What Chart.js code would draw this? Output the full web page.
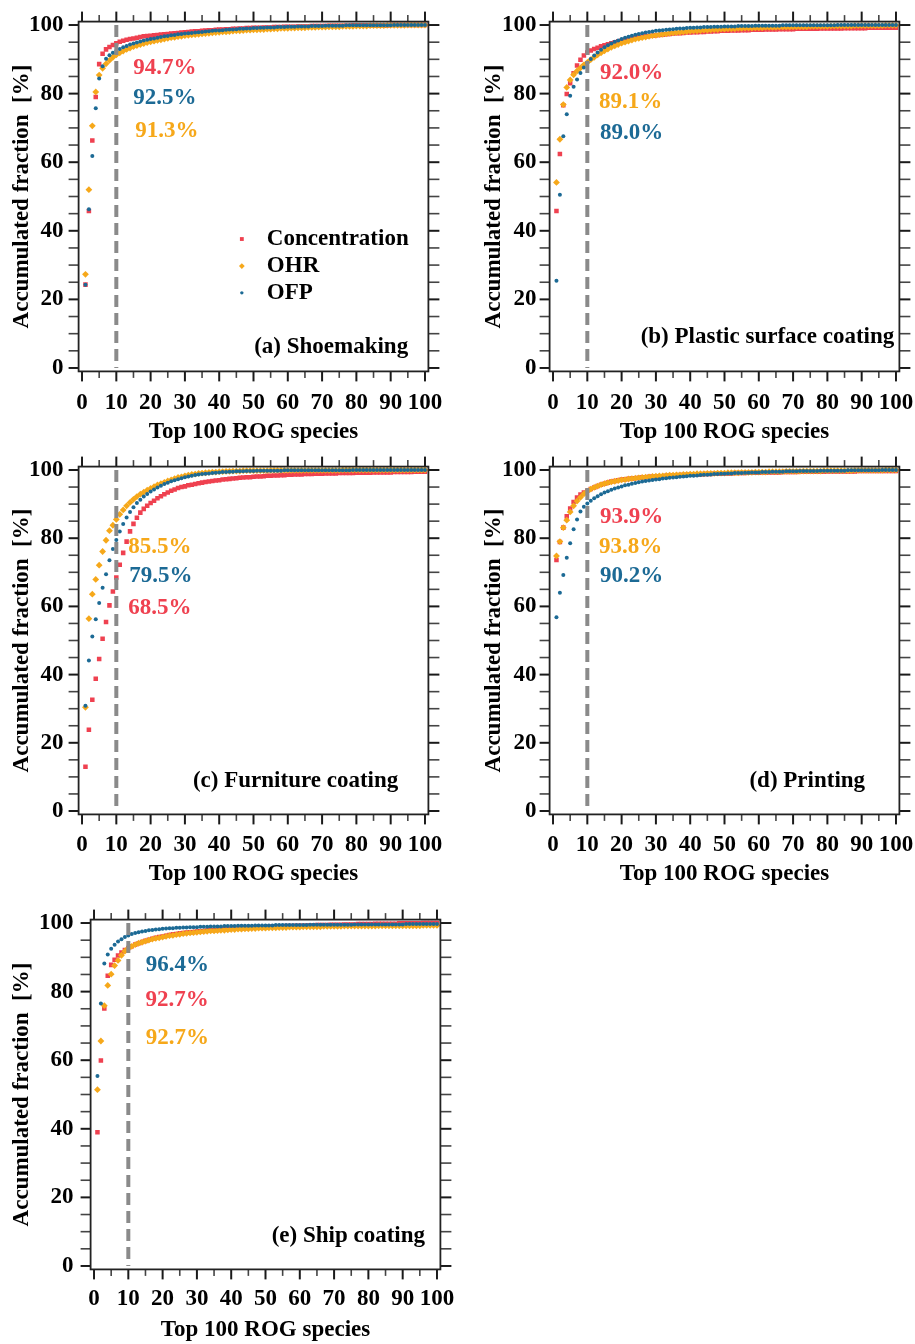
<!DOCTYPE html>
<html><head><meta charset="utf-8">
<script src="https://cdn.jsdelivr.net/npm/chart.js@4.4.1/dist/chart.umd.min.js"></script>
<style>
html,body{margin:0;padding:0;background:#fff;}
body{width:915px;height:1344px;position:relative;overflow:hidden;}
canvas{position:absolute;}
</style></head><body>
<canvas id="pa" width="455" height="446" style="left:0px;top:0px"></canvas>
<canvas id="pb" width="460" height="446" style="left:455px;top:0px"></canvas>
<canvas id="pc" width="455" height="444" style="left:0px;top:446px"></canvas>
<canvas id="pd" width="460" height="444" style="left:455px;top:446px"></canvas>
<canvas id="pe" width="470" height="454" style="left:0px;top:890px"></canvas>
<script>
// ---------- data ----------
const SERIES_NAMES = ['Concentration', 'OHR', 'OFP'];
const X_TITLE = 'Top 100 ROG species';
const Y_TITLE = 'Accumulated fraction  [%]';
const X_TICKS = [0, 10, 20, 30, 40, 50, 60, 70, 80, 90, 100];
const Y_TICKS = [0, 20, 40, 60, 80, 100];
const CUTOFF = 10;
const RANKS = Array.from({length: 100}, (_, i) => i + 1);
const PANEL_TITLES = ['(a) Shoemaking', '(b) Plastic surface coating', '(c) Furniture coating', '(d) Printing', '(e) Ship coating'];

// (a) Shoemaking
const A_CONC = [24.3,45.8,66.3,79.0,88.6,91.6,92.9,93.6,94.2,94.7, 95.1,95.4,95.7,95.9,96.1,96.3,96.5,96.7,96.8,96.9,
  97.0,97.1,97.2,97.3,97.4,97.5,97.6,97.7,97.8,97.9, 98.0,98.1,98.2,98.2,98.3,98.4,98.5,98.5,98.6,98.7,
  98.7,98.8,98.8,98.9,98.9,99.0,99.0,99.1,99.1,99.2, 99.2,99.2,99.3,99.3,99.3,99.4,99.4,99.4,99.5,99.5,
  99.5,99.5,99.6,99.6,99.6,99.6,99.7,99.7,99.7,99.7, 99.7,99.8,99.8,99.8,99.8,99.8,99.8,99.8,99.9,99.9,
  99.9,99.9,99.9,99.9,99.9,99.9,99.9,99.9,99.9,100.0, 100.0,100.0,100.0,100.0,100.0,100.0,100.0,100.0,100.0,100.0];
const A_OHR = [27.3,52.0,70.6,80.5,85.4,87.4,88.7,89.7,90.6,91.3, 91.9,92.4,92.9,93.3,93.7,94.0,94.3,94.6,94.9,95.1,
  95.3,95.5,95.7,95.9,96.1,96.3,96.4,96.6,96.7,96.9, 97.0,97.1,97.2,97.3,97.4,97.5,97.6,97.7,97.8,97.9,
  98.0,98.0,98.1,98.2,98.3,98.3,98.4,98.5,98.5,98.6, 98.6,98.7,98.7,98.8,98.8,98.9,98.9,99.0,99.0,99.0,
  99.1,99.1,99.2,99.2,99.2,99.3,99.3,99.3,99.4,99.4, 99.4,99.5,99.5,99.5,99.5,99.6,99.6,99.6,99.6,99.7,
  99.7,99.7,99.7,99.8,99.8,99.8,99.8,99.8,99.9,99.9, 99.9,99.9,99.9,99.9,100.0,100.0,100.0,100.0,100.0,100.0];
const A_OFP = [24.3,46.3,61.8,75.7,84.4,88.0,90.2,91.2,91.9,92.5, 93.0,93.5,93.9,94.3,94.6,94.9,95.2,95.5,95.7,95.9,
  96.1,96.3,96.5,96.7,96.8,97.0,97.1,97.3,97.4,97.5, 97.6,97.7,97.8,97.9,98.0,98.1,98.2,98.3,98.4,98.4,
  98.5,98.6,98.7,98.7,98.8,98.9,98.9,99.0,99.0,99.1, 99.1,99.2,99.2,99.3,99.3,99.3,99.4,99.4,99.4,99.5,
  99.5,99.5,99.6,99.6,99.6,99.6,99.7,99.7,99.7,99.7, 99.8,99.8,99.8,99.8,99.8,99.8,99.9,99.9,99.9,99.9,
  99.9,99.9,99.9,99.9,99.9,99.9,99.9,99.9,99.9,99.9, 100.0,100.0,100.0,100.0,100.0,100.0,100.0,100.0,100.0,100.0];

// (b) Plastic surface coating
const B_CONC = [45.8,62.4,76.6,79.9,83.0,85.9,88.2,89.9,91.1,92.0, 92.6,93.0,93.4,93.8,94.1,94.4,94.7,95.0,95.3,95.5,
  95.7,95.9,96.1,96.3,96.4,96.6,96.7,96.8,96.9,97.0, 97.1,97.2,97.3,97.4,97.5,97.6,97.6,97.7,97.8,97.8,
  97.9,97.9,98.0,98.0,98.1,98.1,98.2,98.2,98.3,98.3, 98.3,98.4,98.4,98.4,98.5,98.5,98.5,98.6,98.6,98.6,
  98.6,98.7,98.7,98.7,98.7,98.8,98.8,98.8,98.8,98.8, 98.9,98.9,98.9,98.9,98.9,98.9,98.9,99.0,99.0,99.0,
  99.0,99.0,99.0,99.0,99.1,99.1,99.1,99.1,99.1,99.1, 99.1,99.2,99.2,99.2,99.2,99.2,99.2,99.2,99.2,99.2];
const B_OHR = [54.1,66.7,76.8,81.8,84.0,85.5,86.6,87.5,88.4,89.1, 89.9,90.6,91.3,91.9,92.5,93.0,93.5,93.9,94.3,94.7,
  95.0,95.3,95.6,95.9,96.1,96.3,96.5,96.7,96.9,97.0, 97.2,97.3,97.4,97.6,97.7,97.8,97.9,98.0,98.1,98.2,
  98.3,98.3,98.4,98.5,98.5,98.6,98.7,98.7,98.8,98.8, 98.9,98.9,98.9,99.0,99.0,99.1,99.1,99.1,99.2,99.2,
  99.2,99.3,99.3,99.3,99.3,99.4,99.4,99.4,99.4,99.5, 99.5,99.5,99.5,99.5,99.6,99.6,99.6,99.6,99.6,99.6,
  99.7,99.7,99.7,99.7,99.7,99.7,99.7,99.8,99.8,99.8, 99.8,99.8,99.8,99.8,99.8,99.8,99.9,99.9,99.9,99.9];
const B_OFP = [25.4,50.5,67.6,74.0,79.4,82.0,84.1,86.0,87.6,89.0, 90.1,91.1,92.0,92.8,93.5,94.1,94.6,95.1,95.5,95.9,
  96.3,96.6,96.9,97.2,97.4,97.6,97.8,98.0,98.1,98.3, 98.4,98.5,98.6,98.7,98.8,98.9,99.0,99.0,99.1,99.2,
  99.2,99.3,99.3,99.4,99.4,99.4,99.5,99.5,99.5,99.6, 99.6,99.6,99.6,99.7,99.7,99.7,99.7,99.7,99.8,99.8,
  99.8,99.8,99.8,99.8,99.8,99.8,99.9,99.9,99.9,99.9, 99.9,99.9,99.9,99.9,99.9,99.9,99.9,99.9,99.9,99.9,
  99.9,99.9,100.0,100.0,100.0,100.0,100.0,100.0,100.0,100.0, 100.0,100.0,100.0,100.0,100.0,100.0,100.0,100.0,100.0,100.0];

// (c) Furniture coating
const C_CONC = [13.0,23.8,32.6,38.8,44.6,50.5,55.4,60.3,64.4,68.5, 72.2,75.7,79.0,82.0,84.2,86.0,87.5,88.6,89.5,90.3,
  91.0,91.7,92.3,92.9,93.4,93.9,94.3,94.7,95.0,95.2, 95.5,95.7,95.9,96.1,96.3,96.5,96.6,96.8,96.9,97.0,
  97.2,97.3,97.4,97.5,97.6,97.7,97.8,97.9,97.9,98.0, 98.1,98.1,98.2,98.3,98.3,98.4,98.4,98.5,98.5,98.6,
  98.6,98.7,98.7,98.7,98.8,98.8,98.8,98.9,98.9,98.9, 99.0,99.0,99.0,99.0,99.1,99.1,99.1,99.1,99.1,99.2,
  99.2,99.2,99.2,99.2,99.3,99.3,99.3,99.3,99.3,99.3, 99.4,99.4,99.4,99.4,99.4,99.4,99.5,99.5,99.5,99.5];
const C_OHR = [30.4,56.4,63.6,67.9,72.1,76.1,79.4,82.2,83.8,85.5, 87.0,88.3,89.5,90.5,91.4,92.2,92.9,93.5,94.1,94.6,
  95.1,95.6,96.0,96.4,96.8,97.1,97.5,97.8,98.0,98.3, 98.5,98.7,98.8,99.0,99.1,99.2,99.3,99.4,99.4,99.5,
  99.5,99.6,99.6,99.7,99.7,99.7,99.8,99.8,99.8,99.8, 99.8,99.8,99.8,99.8,99.9,99.9,99.9,99.9,99.9,99.9,
  99.9,99.9,99.9,99.9,99.9,99.9,99.9,99.9,99.9,99.9, 99.9,99.9,99.9,99.9,99.9,100.0,100.0,100.0,100.0,100.0,
  100.0,100.0,100.0,100.0,100.0,100.0,100.0,100.0,100.0,100.0, 100.0,100.0,100.0,100.0,100.0,100.0,100.0,100.0,100.0,100.0];
const C_OFP = [30.9,44.1,51.2,56.2,61.0,65.5,69.4,73.5,76.8,79.5, 82.0,84.2,86.1,87.7,89.1,90.3,91.3,92.2,93.0,93.7,
  94.3,94.9,95.4,95.9,96.3,96.7,97.0,97.3,97.6,97.9, 98.1,98.3,98.5,98.7,98.8,98.9,99.0,99.1,99.2,99.3,
  99.4,99.4,99.5,99.5,99.6,99.6,99.6,99.7,99.7,99.7, 99.8,99.8,99.8,99.8,99.8,99.8,99.8,99.8,99.9,99.9,
  99.9,99.9,99.9,99.9,99.9,99.9,99.9,99.9,99.9,99.9, 99.9,99.9,99.9,99.9,99.9,99.9,99.9,99.9,100.0,100.0,
  100.0,100.0,100.0,100.0,100.0,100.0,100.0,100.0,100.0,100.0, 100.0,100.0,100.0,100.0,100.0,100.0,100.0,100.0,100.0,100.0];

// (d) Printing
const D_CONC = [73.6,78.9,83.1,86.4,88.7,90.6,91.9,92.8,93.4,93.9, 94.4,94.9,95.3,95.7,96.0,96.3,96.6,96.8,97.0,97.2,
  97.3,97.4,97.5,97.6,97.7,97.8,97.9,98.0,98.0,98.1, 98.2,98.2,98.3,98.3,98.4,98.4,98.5,98.5,98.6,98.6,
  98.7,98.7,98.7,98.8,98.8,98.8,98.9,98.9,98.9,99.0, 99.0,99.0,99.1,99.1,99.1,99.1,99.2,99.2,99.2,99.2,
  99.3,99.3,99.3,99.3,99.3,99.3,99.4,99.4,99.4,99.4, 99.4,99.5,99.5,99.5,99.5,99.5,99.5,99.5,99.5,99.6,
  99.6,99.6,99.6,99.6,99.6,99.6,99.6,99.6,99.7,99.7, 99.7,99.7,99.7,99.7,99.7,99.7,99.7,99.7,99.7,99.7];
const D_OHR = [74.8,79.0,83.1,85.3,87.7,89.5,90.9,92.0,93.0,93.8, 94.4,94.9,95.3,95.7,96.0,96.3,96.5,96.7,96.9,97.1,
  97.2,97.4,97.5,97.6,97.7,97.8,97.9,98.0,98.1,98.2, 98.3,98.3,98.4,98.5,98.5,98.6,98.6,98.7,98.7,98.8,
  98.8,98.9,98.9,98.9,99.0,99.0,99.0,99.1,99.1,99.1, 99.2,99.2,99.2,99.2,99.3,99.3,99.3,99.3,99.4,99.4,
  99.4,99.4,99.5,99.5,99.5,99.5,99.5,99.6,99.6,99.6, 99.6,99.6,99.7,99.7,99.7,99.7,99.7,99.7,99.8,99.8,
  99.8,99.8,99.8,99.8,99.8,99.8,99.8,99.9,99.9,99.9, 99.9,99.9,99.9,99.9,99.9,99.9,100.0,100.0,100.0,100.0];
const D_OFP = [56.8,64.0,69.2,74.3,78.5,82.6,85.5,87.8,89.2,90.2, 91.0,91.7,92.3,92.9,93.4,93.8,94.2,94.6,94.9,95.2,
  95.5,95.7,96.0,96.2,96.4,96.6,96.8,96.9,97.1,97.2, 97.3,97.5,97.6,97.7,97.8,97.9,98.0,98.1,98.2,98.3,
  98.3,98.4,98.5,98.6,98.6,98.7,98.8,98.8,98.9,98.9, 99.0,99.0,99.1,99.1,99.1,99.2,99.2,99.3,99.3,99.3,
  99.4,99.4,99.4,99.5,99.5,99.5,99.5,99.6,99.6,99.6, 99.6,99.7,99.7,99.7,99.7,99.7,99.7,99.8,99.8,99.8,
  99.8,99.8,99.8,99.8,99.8,99.9,99.9,99.9,99.9,99.9, 99.9,99.9,99.9,99.9,99.9,100.0,100.0,100.0,100.0,100.0];

// (e) Ship coating
const E_CONC = [39.0,59.9,75.1,84.6,87.8,89.3,90.5,91.4,92.1,92.7, 93.2,93.7,94.1,94.5,94.8,95.1,95.4,95.7,95.9,96.1,
  96.3,96.5,96.7,96.8,97.0,97.1,97.2,97.3,97.4,97.5, 97.6,97.7,97.8,97.9,98.0,98.0,98.1,98.2,98.2,98.3,
  98.4,98.4,98.5,98.5,98.6,98.6,98.7,98.7,98.8,98.8, 98.9,98.9,98.9,99.0,99.0,99.1,99.1,99.1,99.2,99.2,
  99.2,99.3,99.3,99.3,99.4,99.4,99.4,99.4,99.5,99.5, 99.5,99.5,99.6,99.6,99.6,99.6,99.7,99.7,99.7,99.7,
  99.7,99.8,99.8,99.8,99.8,99.8,99.8,99.8,99.9,99.9, 99.9,99.9,99.9,99.9,99.9,100.0,100.0,100.0,100.0,100.0];
const E_OHR = [51.4,65.6,75.9,81.8,85.1,87.6,89.1,90.6,91.8,92.7, 93.2,93.7,94.1,94.4,94.7,95.0,95.3,95.5,95.7,95.9,
  96.1,96.3,96.4,96.6,96.7,96.9,97.0,97.1,97.2,97.3, 97.4,97.5,97.6,97.7,97.7,97.8,97.9,97.9,98.0,98.1,
  98.1,98.2,98.2,98.3,98.3,98.4,98.4,98.5,98.5,98.5, 98.6,98.6,98.6,98.7,98.7,98.7,98.8,98.8,98.8,98.8,
  98.9,98.9,98.9,98.9,98.9,98.9,99.0,99.0,99.0,99.0, 99.0,99.0,99.1,99.1,99.1,99.1,99.1,99.1,99.1,99.1,
  99.1,99.1,99.2,99.2,99.2,99.2,99.2,99.2,99.2,99.2, 99.2,99.2,99.2,99.2,99.2,99.3,99.3,99.3,99.3,99.3];
const E_OFP = [55.4,76.5,88.2,90.8,92.5,93.7,94.6,95.3,95.9,96.4, 96.8,97.1,97.3,97.5,97.7,97.9,98.0,98.1,98.2,98.3,
  98.4,98.5,98.5,98.6,98.6,98.7,98.7,98.8,98.8,98.8, 98.9,98.9,98.9,99.0,99.0,99.0,99.0,99.1,99.1,99.1,
  99.1,99.2,99.2,99.2,99.2,99.2,99.3,99.3,99.3,99.3, 99.3,99.3,99.4,99.4,99.4,99.4,99.4,99.4,99.4,99.4,
  99.4,99.4,99.5,99.5,99.5,99.5,99.5,99.5,99.5,99.5, 99.5,99.5,99.5,99.5,99.5,99.6,99.6,99.6,99.6,99.6,
  99.6,99.6,99.6,99.6,99.6,99.6,99.6,99.6,99.6,99.6, 99.7,99.7,99.7,99.7,99.7,99.7,99.7,99.7,99.7,99.7];

// ---------- styles ----------
const COLORS = ['#ef4150', '#f6a81a', '#1c6a95'];
const STYLES = [{ps: 'rect', r: 3.2}, {ps: 'rectRot', r: 3.4}, {ps: 'circle', r: 2.0}];
const FONT_FAMILY = '"Liberation Serif", "Times New Roman", serif';
const FONT = {family: FONT_FAMILY, weight: 'bold', size: 23, lineHeight: 1.2};

const decorPlugin = {
  id: 'decor',
  afterDatasetsDraw(chart, args, o) {
    const ctx = chart.ctx, xs = chart.scales.x, ys = chart.scales.y, a = chart.chartArea;
    const line = (x1, y1, x2, y2) => { ctx.beginPath(); ctx.moveTo(x1, y1); ctx.lineTo(x2, y2); ctx.stroke(); };
    ctx.save();
    for (let v = 0; v <= 100; v += 5) {
      const px = xs.getPixelForValue(v), major = v % 10 === 0;
      ctx.strokeStyle = major ? '#1a1a1a' : '#444';
      ctx.lineWidth = major ? 2 : 1.6;
      const len = major ? 10 : 6.5;
      line(px, a.top, px, a.top - len);
      line(px, a.bottom, px, a.bottom + len);
    }
    for (let v = 0; v <= 100; v += 5) {
      const py = ys.getPixelForValue(v), major = v % 20 === 0;
      ctx.strokeStyle = major ? '#1a1a1a' : '#444';
      ctx.lineWidth = major ? 2 : 1.6;
      line(a.left, py, a.left - 10, py);
      line(a.right, py, a.right + 11, py);
    }
    ctx.strokeStyle = '#222';
    ctx.lineWidth = 1.8;
    ctx.strokeRect(a.left, a.top, a.right - a.left, a.bottom - a.top);

    ctx.font = 'bold 23px ' + FONT_FAMILY;
    ctx.textBaseline = 'middle';
    ctx.textAlign = 'left';
    (o.notes || []).forEach(n => {
      ctx.fillStyle = COLORS[n.s];
      ctx.fillText(n.text, xs.getPixelForValue(n.x), ys.getPixelForValue(n.y));
    });
    if (o.title) {
      ctx.fillStyle = '#000';
      ctx.textAlign = 'right';
      ctx.fillText(o.title.text, xs.getPixelForValue(o.title.x), ys.getPixelForValue(o.title.y));
    }
    if (o.legend) {
      const L = o.legend;
      SERIES_NAMES.forEach((name, i) => {
        const py = ys.getPixelForValue(L.y[i]);
        ctx.fillStyle = COLORS[i];
        Chart.helpers.drawPoint(ctx, {pointStyle: STYLES[i].ps, radius: STYLES[i].r * 0.85, rotation: 0, borderWidth: 0}, xs.getPixelForValue(L.mx), py);
        ctx.fillStyle = '#000';
        ctx.textAlign = 'left';
        ctx.fillText(name, xs.getPixelForValue(L.tx), py);
      });
    }
    ctx.restore();
  }
};

function buildPanel(id, g, series, deco) {
  const datasets = series.map((vals, i) => ({
    label: SERIES_NAMES[i],
    data: RANKS.map((r, k) => ({x: r, y: vals[k]})),
    pointStyle: STYLES[i].ps,
    pointRadius: STYLES[i].r,
    pointBackgroundColor: COLORS[i],
    backgroundColor: COLORS[i],
    pointBorderWidth: 0,
    borderWidth: 0,
    order: 3 - i
  }));
  datasets.push({
    label: 'cutoff',
    data: [{x: CUTOFF, y: 100}, {x: CUTOFF, y: 0}],
    showLine: true,
    borderColor: '#8a8a8a',
    borderWidth: 4,
    borderDash: [12, 6],
    pointRadius: 0,
    order: 0
  });
  new Chart(document.getElementById(id), {
    type: 'scatter',
    data: {datasets},
    plugins: [decorPlugin],
    options: {
      responsive: false,
      devicePixelRatio: 1,
      animation: false,
      events: [],
      layout: {padding: {top: g.T, right: g.padR, left: 0, bottom: 0}},
      plugins: {legend: {display: false}, tooltip: {enabled: false}, decor: deco},
      scales: {
        x: {
          type: 'linear', position: 'bottom', min: -1, max: 101,
          afterBuildTicks: s => { s.ticks = X_TICKS.map(v => ({value: v})); },
          afterFit: s => { s.height = g.xh; s.paddingLeft = 0; s.paddingRight = 0; },
          grid: {display: false, drawTicks: false},
          border: {display: false},
          ticks: {font: FONT, color: '#000', padding: g.xtick, autoSkip: false, maxRotation: 0, minRotation: 0},
          title: {display: true, text: X_TITLE, font: FONT, color: '#000', padding: {top: 0, bottom: g.xtitle}}
        },
        y: {
          type: 'linear', position: 'left', min: -1, max: 101,
          afterBuildTicks: s => { s.ticks = Y_TICKS.map(v => ({value: v})); },
          afterFit: s => { s.width = g.yw; s.paddingTop = 0; s.paddingBottom = 0; },
          grid: {display: false, drawTicks: false},
          border: {display: false},
          ticks: {font: FONT, color: '#000', padding: g.ytick, autoSkip: false},
          title: {display: true, text: Y_TITLE, font: FONT, color: '#000', padding: {top: g.ytitle, bottom: 0}}
        }
      }
    }
  });
}

const pct = v => v.toFixed(1) + '%';

buildPanel('pa', {T: 21.6, padR: 26.6, yw: 78.6, xh: 74.6, xtick: 17.8, xtitle: 0.2, ytitle: 8.7, ytick: 15},
  [A_CONC, A_OHR, A_OFP],
  {notes: [{s: 0, text: pct(A_CONC[9]), x: 14.9, y: 87.5}, {s: 2, text: pct(A_OFP[9]), x: 14.9, y: 78.7}, {s: 1, text: pct(A_OHR[9]), x: 15.5, y: 69.1}],
   title: {text: PANEL_TITLES[0], x: 95.1, y: 6.2},
   legend: {mx: 46.6, tx: 53.9, y: [37.6, 29.7, 21.9]}});

buildPanel('pb', {T: 21.6, padR: 15.6, yw: 94.6, xh: 74.6, xtick: 17.8, xtitle: 0.2, ytitle: 25.2, ytick: 13},
  [B_CONC, B_OHR, B_OFP],
  {notes: [{s: 0, text: pct(B_CONC[9]), x: 13.7, y: 86.1}, {s: 1, text: pct(B_OHR[9]), x: 13.4, y: 77.6}, {s: 2, text: pct(B_OFP[9]), x: 13.7, y: 68.4}],
   title: {text: PANEL_TITLES[1], x: 99.5, y: 9.1}});

buildPanel('pc', {T: 20.6, padR: 26.6, yw: 78.6, xh: 75.6, xtick: 16.8, xtitle: 2.2, ytitle: 8.7, ytick: 15},
  [C_CONC, C_OHR, C_OFP],
  {notes: [{s: 1, text: pct(C_OHR[9]), x: 13.5, y: 77.5}, {s: 2, text: pct(C_OFP[9]), x: 13.8, y: 68.9}, {s: 0, text: pct(C_CONC[9]), x: 13.5, y: 59.6}],
   title: {text: PANEL_TITLES[2], x: 92.2, y: 8.9}});

buildPanel('pd', {T: 20.6, padR: 15.6, yw: 94.6, xh: 75.6, xtick: 16.8, xtitle: 2.2, ytitle: 25.2, ytick: 13},
  [D_CONC, D_OHR, D_OFP],
  {notes: [{s: 0, text: pct(D_CONC[9]), x: 13.7, y: 86.3}, {s: 1, text: pct(D_OHR[9]), x: 13.4, y: 77.5}, {s: 2, text: pct(D_OFP[9]), x: 13.7, y: 68.9}],
   title: {text: PANEL_TITLES[3], x: 91.0, y: 8.9}});

buildPanel('pe', {T: 29.6, padR: 29.6, yw: 90.6, xh: 74.6, xtick: 16.1, xtitle: 0.2, ytitle: 8.7, ytick: 17},
  [E_CONC, E_OHR, E_OFP],
  {notes: [{s: 2, text: pct(E_OFP[9]), x: 15.1, y: 87.8}, {s: 0, text: pct(E_CONC[9]), x: 15.0, y: 77.6}, {s: 1, text: pct(E_OHR[9]), x: 15.1, y: 66.4}],
   title: {text: PANEL_TITLES[4], x: 96.5, y: 8.7}});
</script>
</body></html>
